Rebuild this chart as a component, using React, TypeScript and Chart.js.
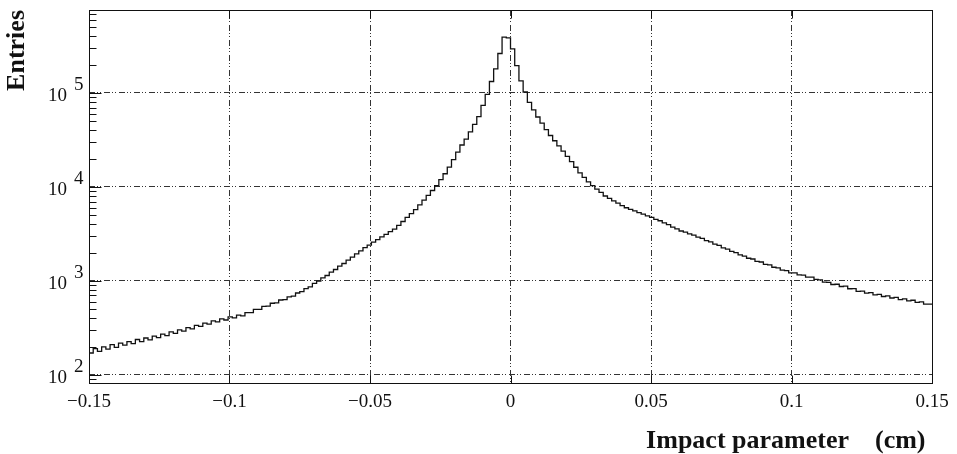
import React, { useEffect, useRef } from "react";
import { Chart, registerables } from "chart.js";

Chart.register(...registerables);

// Histogram binning (cm)
const binLowEdge = -0.15;
const binWidth = 0.0015;

// Entries per bin (200 bins, -0.15 .. 0.15 cm)
const counts = [
  184, 171, 190, 178, 199, 188, 210, 196, 218, 207,
  226, 215, 238, 226, 247, 236, 259, 249, 272, 262,
  287, 276, 301, 292, 318, 309, 337, 328, 355, 347,
  376, 366, 394, 384, 414, 404, 433, 425, 460, 461,
  497, 499, 536, 540, 579, 584, 627, 634, 676, 690,
  744, 770, 830, 866, 940, 994, 1078, 1142, 1243, 1324,
  1436, 1532, 1667, 1789, 1944, 2088, 2267, 2409, 2584, 2748,
  2947, 3127, 3351, 3560, 3898, 4290, 4740, 5206, 5750, 6436,
  7252, 8120, 9170, 10340, 11980, 13820, 16270, 19520, 23520, 27960,
  32310, 38600, 46390, 55930, 73680, 96750, 132500, 180200, 263100, 393000,
  386000, 295000, 195100, 134800, 102400, 79380, 66120, 55550, 47900, 40700,
  35270, 31010, 27380, 24020, 21160, 18560, 16200, 14110, 12630, 11340,
  10315, 9476, 8738, 8010, 7542, 7105, 6722, 6332, 6006, 5760,
  5555, 5325, 5138, 4920, 4745, 4528, 4368, 4155, 3978, 3745,
  3588, 3398, 3305, 3162, 3078, 2930, 2841, 2690, 2604, 2468,
  2389, 2250, 2185, 2060, 2003, 1890, 1840, 1744, 1712, 1618,
  1590, 1502, 1483, 1398, 1378, 1300, 1285, 1221, 1218, 1158,
  1155, 1097, 1096, 1038, 1024, 971, 967, 916, 922, 872,
  879, 826, 829, 776, 779, 741, 749, 710, 721, 683,
  694, 658, 669, 634, 645, 612, 623, 590, 598, 566,
];

const xTicks = [-0.15, -0.1, -0.05, 0, 0.05, 0.1, 0.15];
const yDecades = [2, 3, 4, 5];
const yMin = 82;
const yMax = 764000;
const xTitle = "Impact parameter    (cm) ";
const yTitle = "Entries";

const FONT = '"Liberation Serif", "Times New Roman", serif';
const INK = "#111";
const GRID = "#333";

const decorPlugin = {
  id: "decor",
  afterDraw(chart: any) {
    const { ctx, chartArea: a, scales } = chart;
    const xs = scales.x;
    const ys = scales.y;
    ctx.save();
    ctx.strokeStyle = INK;
    ctx.lineWidth = 1;
    ctx.setLineDash([]);
    const L = Math.round(a.left) + 0.5;
    const T = Math.round(a.top) + 0.5;
    const R = Math.round(a.right) + 0.5;
    const B = Math.round(a.bottom) + 0.5;
    ctx.strokeRect(L, T, R - L, B - T);
    ctx.beginPath();
    // y ticks inside the left frame
    for (let e = 1; e <= 6; e++) {
      for (let m = 1; m <= 9; m++) {
        const v = m * Math.pow(10, e);
        if (v < yMin || v > yMax) continue;
        const y = Math.round(ys.getPixelForValue(v)) + 0.5;
        const len = m === 1 ? 12 : 7;
        ctx.moveTo(L, y);
        ctx.lineTo(L + len, y);
      }
    }
    // x ticks at top and bottom
    for (const v of xTicks) {
      const x = Math.round(xs.getPixelForValue(v)) + 0.5;
      ctx.moveTo(x, B);
      ctx.lineTo(x, B - 8);
      ctx.moveTo(x, T);
      ctx.lineTo(x, T + 8);
    }
    ctx.stroke();
    // y tick labels: 10 with exponent
    ctx.fillStyle = INK;
    ctx.font = `19px ${FONT}`;
    ctx.textBaseline = "middle";
    for (const e of yDecades) {
      const y = ys.getPixelForValue(Math.pow(10, e));
      ctx.textAlign = "right";
      ctx.fillText("10", a.left - 22, y + 3);
      ctx.textAlign = "left";
      ctx.fillText(String(e), a.left - 15, y - 8);
    }
    ctx.restore();
  },
};

export default function App() {
  const canvasRef = useRef<HTMLCanvasElement | null>(null);

  useEffect(() => {
    if (!canvasRef.current) return;
    const points = counts.map((c, i) => ({ x: binLowEdge + i * binWidth, y: c }));
    points.push({ x: binLowEdge + counts.length * binWidth, y: counts[counts.length - 1] });

    const chart = new Chart(canvasRef.current, {
      type: "line",
      data: {
        datasets: [
          {
            data: points,
            stepped: "after",
            borderColor: INK,
            borderWidth: 1.3,
            pointRadius: 0,
            fill: false,
          },
        ],
      },
      plugins: [decorPlugin],
      options: {
        animation: false,
        responsive: false,
        maintainAspectRatio: false,
        layout: { padding: { top: 10, right: 25, left: 0, bottom: 0 } },
        plugins: { legend: { display: false }, tooltip: { enabled: false } },
        scales: {
          x: {
            type: "linear",
            min: -0.15,
            max: 0.15,
            afterBuildTicks: (s: any) => {
              s.ticks = xTicks.map((v) => ({ value: v }));
            },
            afterFit: (s: any) => {
              s.height = 71;
            },
            ticks: {
              autoSkip: false,
              maxRotation: 0,
              padding: 8,
              color: INK,
              font: { family: FONT, size: 19 },
              callback: (v: any) => {
                const r = Math.round(Number(v) * 100) / 100;
                return String(r).replace("-", "\u2212");
              },
            },
            grid: {
              drawTicks: false,
              lineWidth: 1,
              color: (c: any) =>
                c.tick && Math.abs(c.tick.value) > 0.149 ? "rgba(0,0,0,0)" : GRID,
            },
            border: { display: false, dash: [6, 2, 1, 2, 1, 3] },
            title: {
              display: true,
              text: xTitle,
              align: "end",
              color: INK,
              padding: 0,
              font: { family: FONT, size: 26, weight: "bold", lineHeight: 1 },
            },
          },
          y: {
            type: "logarithmic",
            min: yMin,
            max: yMax,
            afterBuildTicks: (s: any) => {
              s.ticks = yDecades.map((e) => ({ value: Math.pow(10, e) }));
            },
            afterFit: (s: any) => {
              s.width = 89;
            },
            ticks: { display: false },
            grid: { drawTicks: false, lineWidth: 1, color: GRID },
            border: { display: false, dash: [6, 2, 1, 2, 1, 3] },
            title: {
              display: true,
              text: yTitle,
              align: "end",
              color: INK,
              padding: { top: 4, bottom: 0 },
              font: { family: FONT, size: 26, weight: "bold", lineHeight: 1 },
            },
          },
        },
      },
    } as any);
    return () => chart.destroy();
  }, []);

  return (
    <div style={{ position: "fixed", left: 0, top: 0, width: 957, height: 454, background: "#fff" }}>
      <canvas ref={canvasRef} width={957} height={454} style={{ display: "block" }} />
    </div>
  );
}
